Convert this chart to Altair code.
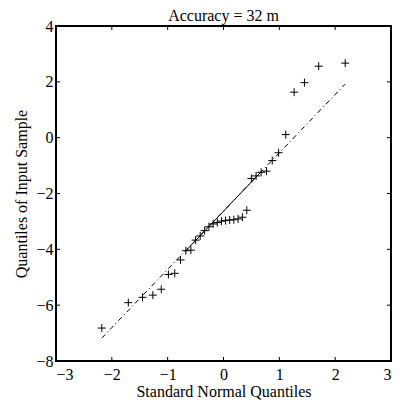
import altair as alt
import pandas as pd

# Theoretical (standard normal) quantiles and sample quantiles
theo_q = [-2.18, -1.705, -1.45, -1.265, -1.115, -0.987, -0.873, -0.770, -0.674, -0.584,
          -0.499, -0.417, -0.338, -0.261, -0.185, -0.111, -0.037, 0.037, 0.111, 0.185,
          0.261, 0.338, 0.417, 0.499, 0.584, 0.674, 0.770, 0.873, 0.987, 1.115,
          1.265, 1.45, 1.705, 2.18]
sample_q = [-6.82, -5.91, -5.72, -5.64, -5.43, -4.90, -4.86, -4.38, -4.05, -4.03,
            -3.67, -3.52, -3.33, -3.19, -3.09, -3.04, -2.99, -2.97, -2.95, -2.94,
            -2.91, -2.85, -2.60, -1.46, -1.37, -1.24, -1.20, -0.82, -0.54, 0.11,
            1.63, 1.97, 2.56, 2.67]

# Interquartile reference line (solid) and its extension (dash-dot)
iqr_x = [-0.674, 0.674]
iqr_y = [-4.05, -1.22]
ext_x = [-2.18, 2.18]
ext_y = [-7.18, 1.92]

x_ticks = [-3, -2, -1, 0, 1, 2, 3]
y_ticks = [-8, -6, -4, -2, 0, 2, 4]

W, H, TICK = 335, 335, 4
FONT = "Liberation Serif"

pts = pd.DataFrame({"x": theo_q, "y": sample_q})
iqr = pd.DataFrame({"x": iqr_x, "y": iqr_y})
ext = pd.DataFrame({"x": ext_x, "y": ext_y})
xt = pd.DataFrame({"x": x_ticks})
yt = pd.DataFrame({"y": y_ticks})

xs = alt.Scale(domain=[-3, 3], nice=False, zero=False)
ys = alt.Scale(domain=[-8, 4], nice=False, zero=False)

common_axis = dict(grid=False, domain=False, ticks=False, tickSize=0, format="d",
                   labelFont=FONT, labelFontSize=16, labelColor="black",
                   titleFont=FONT, titleFontSize=16, titleFontWeight="normal",
                   titleColor="black")

x_enc = alt.X("x:Q", scale=xs, axis=alt.Axis(
    values=x_ticks, title="Standard Normal Quantiles",
    labelPadding=5, titlePadding=1, **common_axis))
y_enc = alt.Y("y:Q", scale=ys, axis=alt.Axis(
    values=y_ticks, title="Quantiles of Input Sample",
    labelPadding=3, titlePadding=6, **common_axis))

plus = "M-1,0L1,0M0,-1L0,1"
points = alt.Chart(pts).mark_point(
    shape=plus, filled=False, stroke="black", strokeWidth=1, size=64, opacity=1
).encode(x=x_enc, y=y_enc)

ext_line = alt.Chart(ext).mark_line(
    color="black", strokeWidth=1, strokeDash=[5, 3, 1, 3]
).encode(x=alt.X("x:Q", scale=xs), y=alt.Y("y:Q", scale=ys))

iqr_line = alt.Chart(iqr).mark_line(color="black", strokeWidth=1).encode(
    x=alt.X("x:Q", scale=xs), y=alt.Y("y:Q", scale=ys))

# inward-pointing ticks on all four sides of the box
tick_style = dict(color="black", strokeWidth=1)
x_bot = alt.Chart(xt).mark_rule(**tick_style).encode(
    x=alt.X("x:Q", scale=xs), y=alt.value(H - TICK), y2=alt.value(H))
x_top = alt.Chart(xt).mark_rule(**tick_style).encode(
    x=alt.X("x:Q", scale=xs), y=alt.value(0), y2=alt.value(TICK))
y_lft = alt.Chart(yt).mark_rule(**tick_style).encode(
    y=alt.Y("y:Q", scale=ys), x=alt.value(0), x2=alt.value(TICK))
y_rgt = alt.Chart(yt).mark_rule(**tick_style).encode(
    y=alt.Y("y:Q", scale=ys), x=alt.value(W - TICK), x2=alt.value(W))

chart = alt.layer(points, ext_line, iqr_line, x_bot, x_top, y_lft, y_rgt).properties(
    width=W, height=H,
    title=alt.TitleParams("Accuracy = 32 m", font=FONT, fontSize=16,
                          fontWeight="normal", color="black", offset=0, dy=6,
                          frame="group"),
    autosize=alt.AutoSizeParams(type="none"),
    padding={"left": 48, "top": 18, "right": 2, "bottom": 44},
).configure(background="white").configure_view(stroke="black", strokeWidth=2)

chart.save("out.html", embed_options={"renderer": "svg", "actions": False})
